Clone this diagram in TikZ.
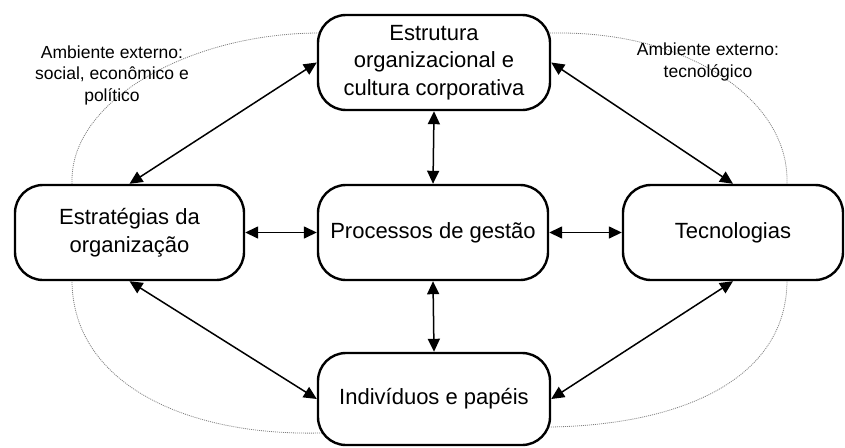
\documentclass[tikz,border=0pt]{standalone}
\usepackage{fontspec}
\setmainfont{Liberation Sans}
\usetikzlibrary{arrows.meta}
\usetikzlibrary{positioning}

\begin{document}
\begin{tikzpicture}[x=1pt, y=-1pt,
    caixa/.style={draw, line width=2.4pt, rounded corners=28pt, fill=white,
      align=center, inner sep=0pt,
      font=\fontsize{22}{27.5}\selectfont},
    ambiente/.style={align=center, inner sep=0pt,
      font=\fontsize{17.5}{21.5}\selectfont},
    liga/.style={line width=1.5pt, {Triangle[length=13pt,width=12pt]}-{Triangle[length=13pt,width=12pt]}},
    limite/.style={line width=0.8pt, gray, dash pattern=on 1pt off 1pt}]
  \useasboundingbox (0,0) rectangle (845,447);

  % ambiente externo
  \draw[limite] (72,230) -- (72,180)
    .. controls (72,100) and (190,33) .. (320,33) -- (560,33)
    .. controls (690,33) and (787,100) .. (787,180) -- (787,280)
    .. controls (787,380) and (680,425) .. (550,427) -- (320,433)
    .. controls (180,436) and (72,380) .. (72,280) -- cycle;

  \node[ambiente] (ambsocial) at (112,75)
    {Ambiente externo:\\social, econômico e\\político};
  \node[ambiente] (ambtec) at (708,62) {Ambiente externo:\\tecnológico};

  % blocos
  \node[caixa, minimum width=232pt, minimum height=95pt] (estrutura) at (434,62.5)
    {Estrutura\\organizacional e\\cultura corporativa};
  \node[caixa, minimum width=230pt, minimum height=95pt] (processos) at (433,232.5)
    {Processos de gestão};
  \node[caixa, minimum width=229pt, minimum height=95pt] (estrategias) at (129.5,232.5)
    {Estratégias da\\organização};
  \node[caixa, minimum width=220pt, minimum height=95pt] (tecnologias) at (733,232.5)
    {Tecnologias};
  \node[caixa, minimum width=232pt, minimum height=92pt] (individuos) at (434,399)
    {Indivíduos e papéis};

  % ligacoes
  \draw[liga] (estrategias.east) -- (processos.west);
  \draw[liga] (processos.east) -- (tecnologias.west);
  \draw[liga] (estrutura.south) -- (processos.north);
  \draw[liga] (processos.south) -- (individuos.north);
  \draw[liga] (estrategias.north) -- (estrutura.west);
  \draw[liga] (tecnologias.north) -- (estrutura.east);
  \draw[liga] (estrategias.south) -- (individuos.west);
  \draw[liga] (tecnologias.south) -- (individuos.east);
\end{tikzpicture}
\end{document}
